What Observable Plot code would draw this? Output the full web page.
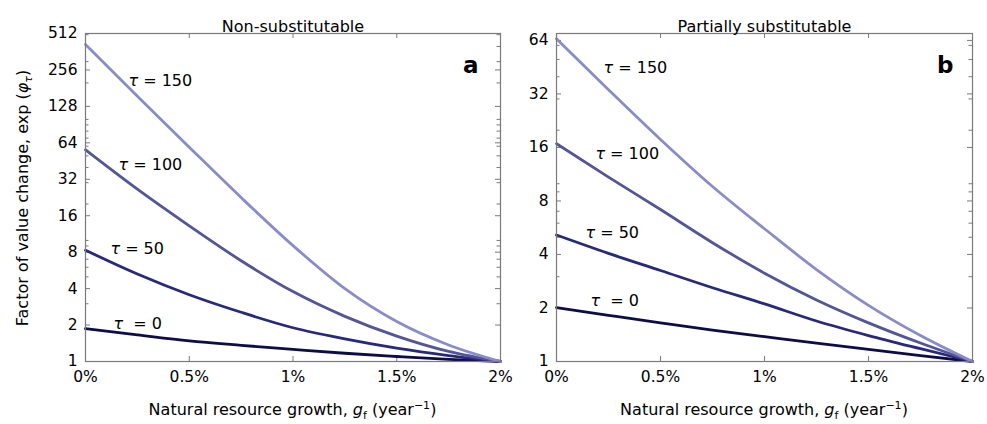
<!DOCTYPE html>
<html><head><meta charset="utf-8">
<script src="https://cdn.jsdelivr.net/npm/d3@7"></script>
<script src="https://cdn.jsdelivr.net/npm/@observablehq/plot@0.6"></script>
<style>
body{margin:0;background:#fff;}
#wrap{position:relative;width:987px;height:424px;overflow:hidden;background:#fff;}
#left,#right{position:absolute;top:0;}
#left{left:0px;}
#right{left:510px;}
svg text{font-family:"DejaVu Sans",sans-serif;}
</style></head><body>
<div id="wrap"><div id="left"></div><div id="right"></div></div>
<script>
// ---- data ----
const growth = [0, 0.0025, 0.005, 0.0075, 0.01, 0.0125, 0.015, 0.0175, 0.02];
const taus = [0, 50, 100, 150];
const tauLabels = ["τ  = 0", "τ = 50", "τ = 100", "τ = 150"];
const xTicks = [0, 0.005, 0.01, 0.015, 0.02];
const xTickLabels = ["0%", "0.5%", "1%", "1.5%", "2%"];

// Panel a: non-substitutable, factor of value change exp(phi_tau)
const nonSubTau0   = [1.87, 1.66, 1.48, 1.36, 1.26, 1.17, 1.10, 1.04, 1];
const nonSubTau50  = [8.3, 5.28, 3.56, 2.55, 1.9, 1.54, 1.29, 1.12, 1];
const nonSubTau100 = [56, 26.5, 13.2, 6.8, 3.78, 2.36, 1.62, 1.21, 1];
const nonSubTau150 = [416, 155.4, 58.9, 22.6, 9.06, 4.0, 2.14, 1.37, 1];
const nonSubMajor = [1, 2, 4, 8, 16, 32, 64, 128, 256, 512];
const nonSubMinor = [3, 5, 6, 7, 9, 10, 20, 30, 40, 50, 60, 70, 80, 90, 100, 200, 300, 400, 500];
const nonSubLabelG = [0.00135, 0.0012, 0.00159, 0.00207];
const nonSubLabelV = [2.06, 8.58, 42.4, 209];

// Panel b: partially substitutable
const partSubTau0   = [2.01, 1.82, 1.65, 1.5, 1.38, 1.27, 1.17, 1.08, 1];
const partSubTau50  = [5.15, 4.06, 3.25, 2.6, 2.11, 1.69, 1.4, 1.18, 1];
const partSubTau100 = [16.8, 10.9, 7.16, 4.66, 3.14, 2.22, 1.65, 1.27, 1];
const partSubTau150 = [65.4, 33.8, 17.75, 9.65, 5.58, 3.29, 2.07, 1.4, 1];
const partSubMajor = [1, 2, 4, 8, 16, 32, 64];
const partSubMinor = [3, 5, 6, 7, 9, 10, 20, 30, 40, 50, 60];
const partSubLabelG = [0.00163, 0.00139, 0.00187, 0.00226];
const partSubLabelV = [2.2, 5.32, 14.8, 44.6];

const lineColors = ["#0c0c48", "#28287c", "#545597", "#8a8cc8"];
const gray = "#7a7a7a";

function panel(el, {width, marginLeft, marginRight, yMax, majors, minors, series, labelG, labelV, title, letter, letterDx, yLabel}) {
  const height = 424, marginTop = 33, marginBottom = 63;
  const innerW = width - marginLeft - marginRight;
  const innerH = height - marginTop - marginBottom;
  const rows = [];
  series.forEach((vals, k) => growth.forEach((g, i) => rows.push({g, v: vals[i], tau: taus[k]})));
  const labels = taus.map((t, k) => ({g: labelG[k], v: labelV[k], text: tauLabels[k]}));
  const xLab = xTicks.map((x, i) => ({x, text: xTickLabels[i]}));
  const plot = Plot.plot({
    width, height, marginLeft, marginRight, marginTop, marginBottom,
    style: {fontFamily: "DejaVu Sans, sans-serif", fontSize: "16px", color: "#000", background: "transparent", overflow: "visible"},
    x: {domain: [0, 0.02], axis: null},
    y: {type: "log", domain: [1, yMax], axis: null},
    color: {type: "ordinal", domain: taus, range: lineColors},
    marks: [
      Plot.text(xLab, {x: "x", text: "text", frameAnchor: "bottom", lineAnchor: "top", dy: 9, fontSize: 15.5, fill: "#000"}),
      Plot.text(majors, {y: d => d, text: d => String(d), frameAnchor: "left", textAnchor: "end", dx: -8, fontSize: 15.5, fill: "#000"}),
      Plot.tickY(majors, {y: d => d, insetRight: innerW - 5, stroke: gray}),
      Plot.tickY(majors, {y: d => d, insetLeft: innerW - 5, stroke: gray}),
      Plot.tickY(minors, {y: d => d, insetRight: innerW - 3.5, stroke: gray}),
      Plot.tickY(minors, {y: d => d, insetLeft: innerW - 3.5, stroke: gray}),
      Plot.tickX(xTicks, {x: d => d, insetTop: innerH - 5, stroke: gray}),
      Plot.tickX(xTicks, {x: d => d, insetBottom: innerH - 5, stroke: gray}),
      Plot.line(rows, {x: "g", y: "v", z: "tau", stroke: "tau", strokeWidth: 2.8, curve: "monotone-x"}),
      Plot.frame({stroke: gray, strokeWidth: 1.2}),
      Plot.text(labels, {x: "g", y: "v", text: "text", textAnchor: "start", fontSize: 16, fill: "#000"}),
      Plot.text([title], {frameAnchor: "top", dy: -13, fontSize: 16, fill: "#000"}),
      Plot.text([letter], {frameAnchor: "top-right", dx: letterDx, dy: 23, fontSize: 23, fontWeight: "bold", textAnchor: "end", fill: "#000"})
    ]
  });
  const svg = d3.select(plot);
  svg.selectAll("text").each(function() {
    const t = this.textContent;
    if (t.startsWith("τ")) {
      const rest = t.slice(1);
      d3.select(this).attr("style", "white-space:pre").html(`<tspan font-style="italic">τ</tspan><tspan>${rest}</tspan>`);
    }
  });
  svg.append("text")
    .attr("x", marginLeft + innerW / 2).attr("y", 415)
    .attr("text-anchor", "middle").attr("font-size", 16).attr("fill", "#000")
    .html(`Natural resource growth, <tspan font-style="italic">g</tspan><tspan dy="4" font-size="11">f</tspan><tspan dy="-4"> (year</tspan><tspan dy="-6" font-size="11">−1</tspan><tspan dy="6">)</tspan>`);
  if (yLabel) {
    svg.append("text")
      .attr("transform", "translate(28,198) rotate(-90)")
      .attr("text-anchor", "middle").attr("font-size", 16).attr("fill", "#000")
      .html(`Factor of value change, exp (<tspan font-style="italic">φ</tspan><tspan dy="4" font-size="11" font-style="italic">τ</tspan><tspan dy="-4">)</tspan>`);
  }
  document.getElementById(el).appendChild(plot);
}

panel("left", {
  width: 510, marginLeft: 85, marginRight: 10, yMax: 512,
  majors: nonSubMajor, minors: nonSubMinor,
  series: [nonSubTau0, nonSubTau50, nonSubTau100, nonSubTau150],
  labelG: nonSubLabelG, labelV: nonSubLabelV,
  title: "Non-substitutable", letter: "a", letterDx: -22, yLabel: true
});
panel("right", {
  width: 477, marginLeft: 46, marginRight: 15, yMax: 70,
  majors: partSubMajor, minors: partSubMinor,
  series: [partSubTau0, partSubTau50, partSubTau100, partSubTau150],
  labelG: partSubLabelG, labelV: partSubLabelV,
  title: "Partially substitutable", letter: "b", letterDx: -19, yLabel: false
});
</script>
</body></html>
